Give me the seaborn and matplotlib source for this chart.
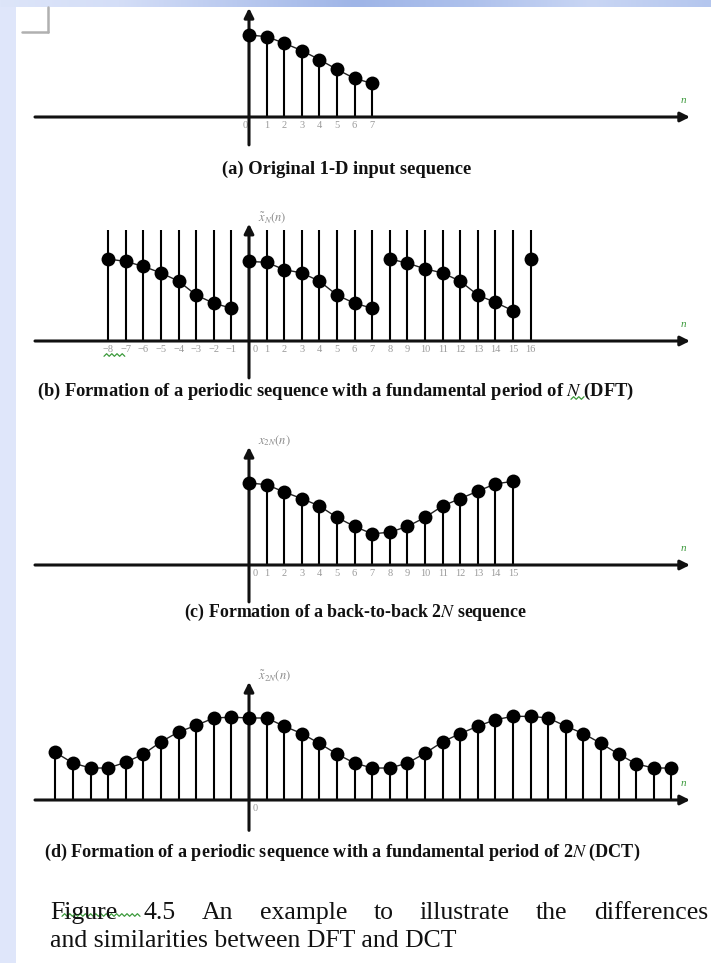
import numpy as np
import pandas as pd
import matplotlib
matplotlib.use("Agg")
import matplotlib.pyplot as plt
import seaborn as sns
from matplotlib.patches import Rectangle
from matplotlib.lines import Line2D
from matplotlib.colors import LinearSegmentedColormap
from matplotlib.transforms import ScaledTranslation

# ---------------- data ----------------
n_a = list(range(0, 8))
x_a = [1.00, 0.98, 0.90, 0.81, 0.70, 0.58, 0.47, 0.41]
ticks_a = [str(v) for v in n_a]

n_b = list(range(-8, 17))
x_b = [1.00, 0.97, 0.91, 0.83, 0.73, 0.56, 0.46, 0.40,
       0.97, 0.96, 0.87, 0.83, 0.73, 0.56, 0.46, 0.40,
       1.00, 0.95, 0.88, 0.83, 0.73, 0.56, 0.47, 0.37,
       1.00]
period_b = [-1] * 8 + [0] * 8 + [1] * 8 + [2]
ticks_b = [str(v).replace("-", "\u2212") for v in n_b]

n_c = list(range(0, 16))
x_c = [1.00, 0.98, 0.89, 0.81, 0.72, 0.58, 0.47, 0.38,
       0.40, 0.47, 0.58, 0.72, 0.81, 0.90, 0.99, 1.02]
ticks_c = [str(v) for v in n_c]

n_d = list(range(-11, 25))
x_d = [0.58, 0.45, 0.39, 0.39, 0.46, 0.56, 0.71, 0.83, 0.91, 1.00, 1.01,
       1.00, 1.00, 0.90, 0.81, 0.69, 0.56, 0.45, 0.39, 0.39, 0.45, 0.57,
       0.71, 0.81, 0.90, 0.98, 1.02,
       1.02, 1.00, 0.90, 0.81, 0.69, 0.56, 0.44, 0.39, 0.39]
ticks_d_pos = [0]
ticks_d = ["0"]

captions = [
    "(a) Original 1-D input sequence",
    "(b) Formation of a periodic sequence with a fundamental period of $\\mathit{N}$ (DFT)",
    "(c) Formation of a back-to-back 2$\\mathit{N}$ sequence",
    "(d) Formation of a periodic sequence with a fundamental period of 2$\\mathit{N}$ (DCT)",
]
ylabels = [None, r"$\tilde{x}_N(n)$", r"$x_{2N}(n)$", r"$\tilde{x}_{2N}(n)$"]
fig_words1 = ["Figure", "4.5", "An", "example", "to", "illustrate", "the", "differences"]
fig_line2 = "and similarities between DFT and DCT"

# ---------------- layout ----------------
sns.set_theme(style="white")
plt.rcParams["font.family"] = ["Liberation Serif", "DejaVu Serif"]
plt.rcParams["mathtext.fontset"] = "stix"

W, H = 711, 963
fig = plt.figure(figsize=(W / 100, H / 100), dpi=100)
fig.patch.set_facecolor("white")

# slide background decorations
fig.add_artist(Rectangle((0, 0), 16 / W, 1, transform=fig.transFigure,
                         facecolor="#dfe6fa", edgecolor="none", zorder=0))
band = fig.add_axes([0, 1 - 7 / H, 1, 7 / H])
cmap = LinearSegmentedColormap.from_list(
    "band", ["#dde5f9", "#d4def7", "#b9c9ef", "#9fb5e7", "#aec1ec", "#c9d6f4", "#b4c6ee"])
band.imshow(np.linspace(0, 1, 256)[None, :], aspect="auto", cmap=cmap)
band.set_axis_off()
fig.add_artist(Line2D([48 / W, 48 / W], [1 - 7 / H, 1 - 32 / H], color="#b0b0b0", lw=1.8))
fig.add_artist(Line2D([22 / W, 48 / W], [1 - 32 / H, 1 - 32 / H], color="#b0b0b0", lw=1.8))

PX_N, N0_PX, X_L, X_R, PX_U = 17.6, 249, 35, 690, 82
axis_y = [117, 341, 565, 800]
v_bot = [-0.34, -0.45, -0.45, -0.37]
v_top = [1.33, 1.43, 1.44, 1.44]
zero_shift = [-4, 6, 6, 6]          # pixel nudge of the "0" tick label
cap_xy = [(347, 169), (336, 391), (356, 612), (342, 852)]
cap_w = [250, 596, 343, 595]

green = "#3c9a3c"


def make_ax(ay):
    top_u, bot_u = 1.7, 0.75
    top_px, bot_px = ay - top_u * PX_U, ay + bot_u * PX_U
    ax = fig.add_axes([X_L / W, 1 - bot_px / H, (X_R - X_L) / W, (bot_px - top_px) / H])
    ax.set_xlim((X_L - N0_PX) / PX_N, (X_R - N0_PX) / PX_N)
    ax.set_ylim(-bot_u, top_u)
    ax.patch.set_alpha(0)
    for s in ax.spines.values():
        s.set_visible(False)
    ax.spines["bottom"].set_position(("data", 0))
    ax.set_yticks([])
    ax.tick_params(axis="x", length=0, pad=3, labelsize=7.5, labelcolor="#9a9a9a")
    return ax


def axes_arrows(ax, i):
    xmin, xmax = ax.get_xlim()
    ap = dict(arrowstyle="-|>", lw=2.2, color="#111111", shrinkA=0, shrinkB=0, mutation_scale=14)
    ax.annotate("", xy=(xmax, 0), xytext=(xmin, 0), arrowprops=ap, annotation_clip=False)
    ax.annotate("", xy=(0, v_top[i]), xytext=(0, v_bot[i]), arrowprops=ap, annotation_clip=False)
    ax.text(xmax - 0.35, 0.2, "n", color=green, fontsize=8, style="italic", ha="center", va="center")


def stems(ax, n, x, top=None, lw=1.5):
    ax.vlines(n, 0, x if top is None else top, color="black", lw=lw, zorder=2)
    sns.scatterplot(x=n, y=x, s=100, color="black", edgecolor="black", linewidth=0, ax=ax,
                    zorder=4, legend=False)


axs = [make_ax(ay) for ay in axis_y]

# (a)
ax = axs[0]
stems(ax, n_a, x_a)
sns.lineplot(x=n_a, y=x_a, color="#222222", lw=1.0, ax=ax, zorder=3)
ax.set_xticks(n_a, ticks_a)

# (b)
ax = axs[1]
df_b = pd.DataFrame({"n": n_b, "x": x_b, "p": period_b})
stems(ax, n_b, x_b, top=1.35)
sns.lineplot(data=df_b, x="n", y="x", units="p", estimator=None, color="#222222",
             lw=1.0, ax=ax, zorder=3)
ax.set_xticks(n_b, ticks_b)

# (c)
ax = axs[2]
stems(ax, n_c, x_c)
sns.lineplot(x=n_c, y=x_c, color="#222222", lw=1.0, ax=ax, zorder=3)
ax.set_xticks(n_c, ticks_c)

# (d)
ax = axs[3]
stems(ax, n_d, x_d)
sns.lineplot(x=n_d, y=x_d, color="#222222", lw=1.0, ax=ax, zorder=3)
ax.set_xticks(ticks_d_pos, ticks_d)

for i, ax in enumerate(axs):
    ax.set_xlabel("")
    ax.set_ylabel("")
    axes_arrows(ax, i)
    for lab in ax.get_xticklabels():
        if lab.get_text() == "0":
            lab.set_transform(lab.get_transform() + ScaledTranslation(zero_shift[i] / 100, 0, fig.dpi_scale_trans))
            lab.set_zorder(5)
    if ylabels[i]:
        ax.text(0.5, v_top[i] + 0.08, ylabels[i], color="#8a8a8a", fontsize=9, ha="left", va="center")

renderer = fig.canvas.get_renderer()

for s, (cx, cy), tw in zip(captions, cap_xy, cap_w):
    t = fig.text(cx / W, 1 - cy / H, s, ha="center", va="center", fontsize=10,
                 fontweight="bold", color="#111111")
    w = t.get_window_extent(renderer).width
    t.set_fontsize(10 * tw / w)

# bottom figure caption (justified first line)
cap_font = "Liberation Serif"
t2 = fig.text(50 / W, 1 - 941 / H, fig_line2, ha="left", va="center", fontsize=12,
              color="#111111", family=cap_font)
w2 = t2.get_window_extent(renderer).width
fs = 12 * 405 / w2
t2.set_fontsize(fs)
widths = []
word_texts = []
for wd in fig_words1:
    tt = fig.text(0, 1 - 913 / H, wd, ha="left", va="center", fontsize=fs, color="#111111",
                  family=cap_font)
    widths.append(tt.get_window_extent(renderer).width)
    word_texts.append(tt)
gap = (708 - 50 - sum(widths)) / (len(fig_words1) - 1)
xpos = 50
for tt, wd in zip(word_texts, widths):
    tt.set_x(xpos / W)
    xpos += wd + gap


def squiggle(x0, x1, y, amp=1.3, step=2.6):
    xs = np.arange(x0, x1 + 0.01, step)
    ys = y + amp * np.where(np.arange(len(xs)) % 2 == 0, 1.0, -1.0)
    fig.add_artist(Line2D(xs / W, 1 - ys / H, color=green, lw=0.9))


squiggle(104, 126, 355)
squiggle(571, 586, 398)
squiggle(62, 140, 915)

fig.savefig("out.png", dpi=100)
